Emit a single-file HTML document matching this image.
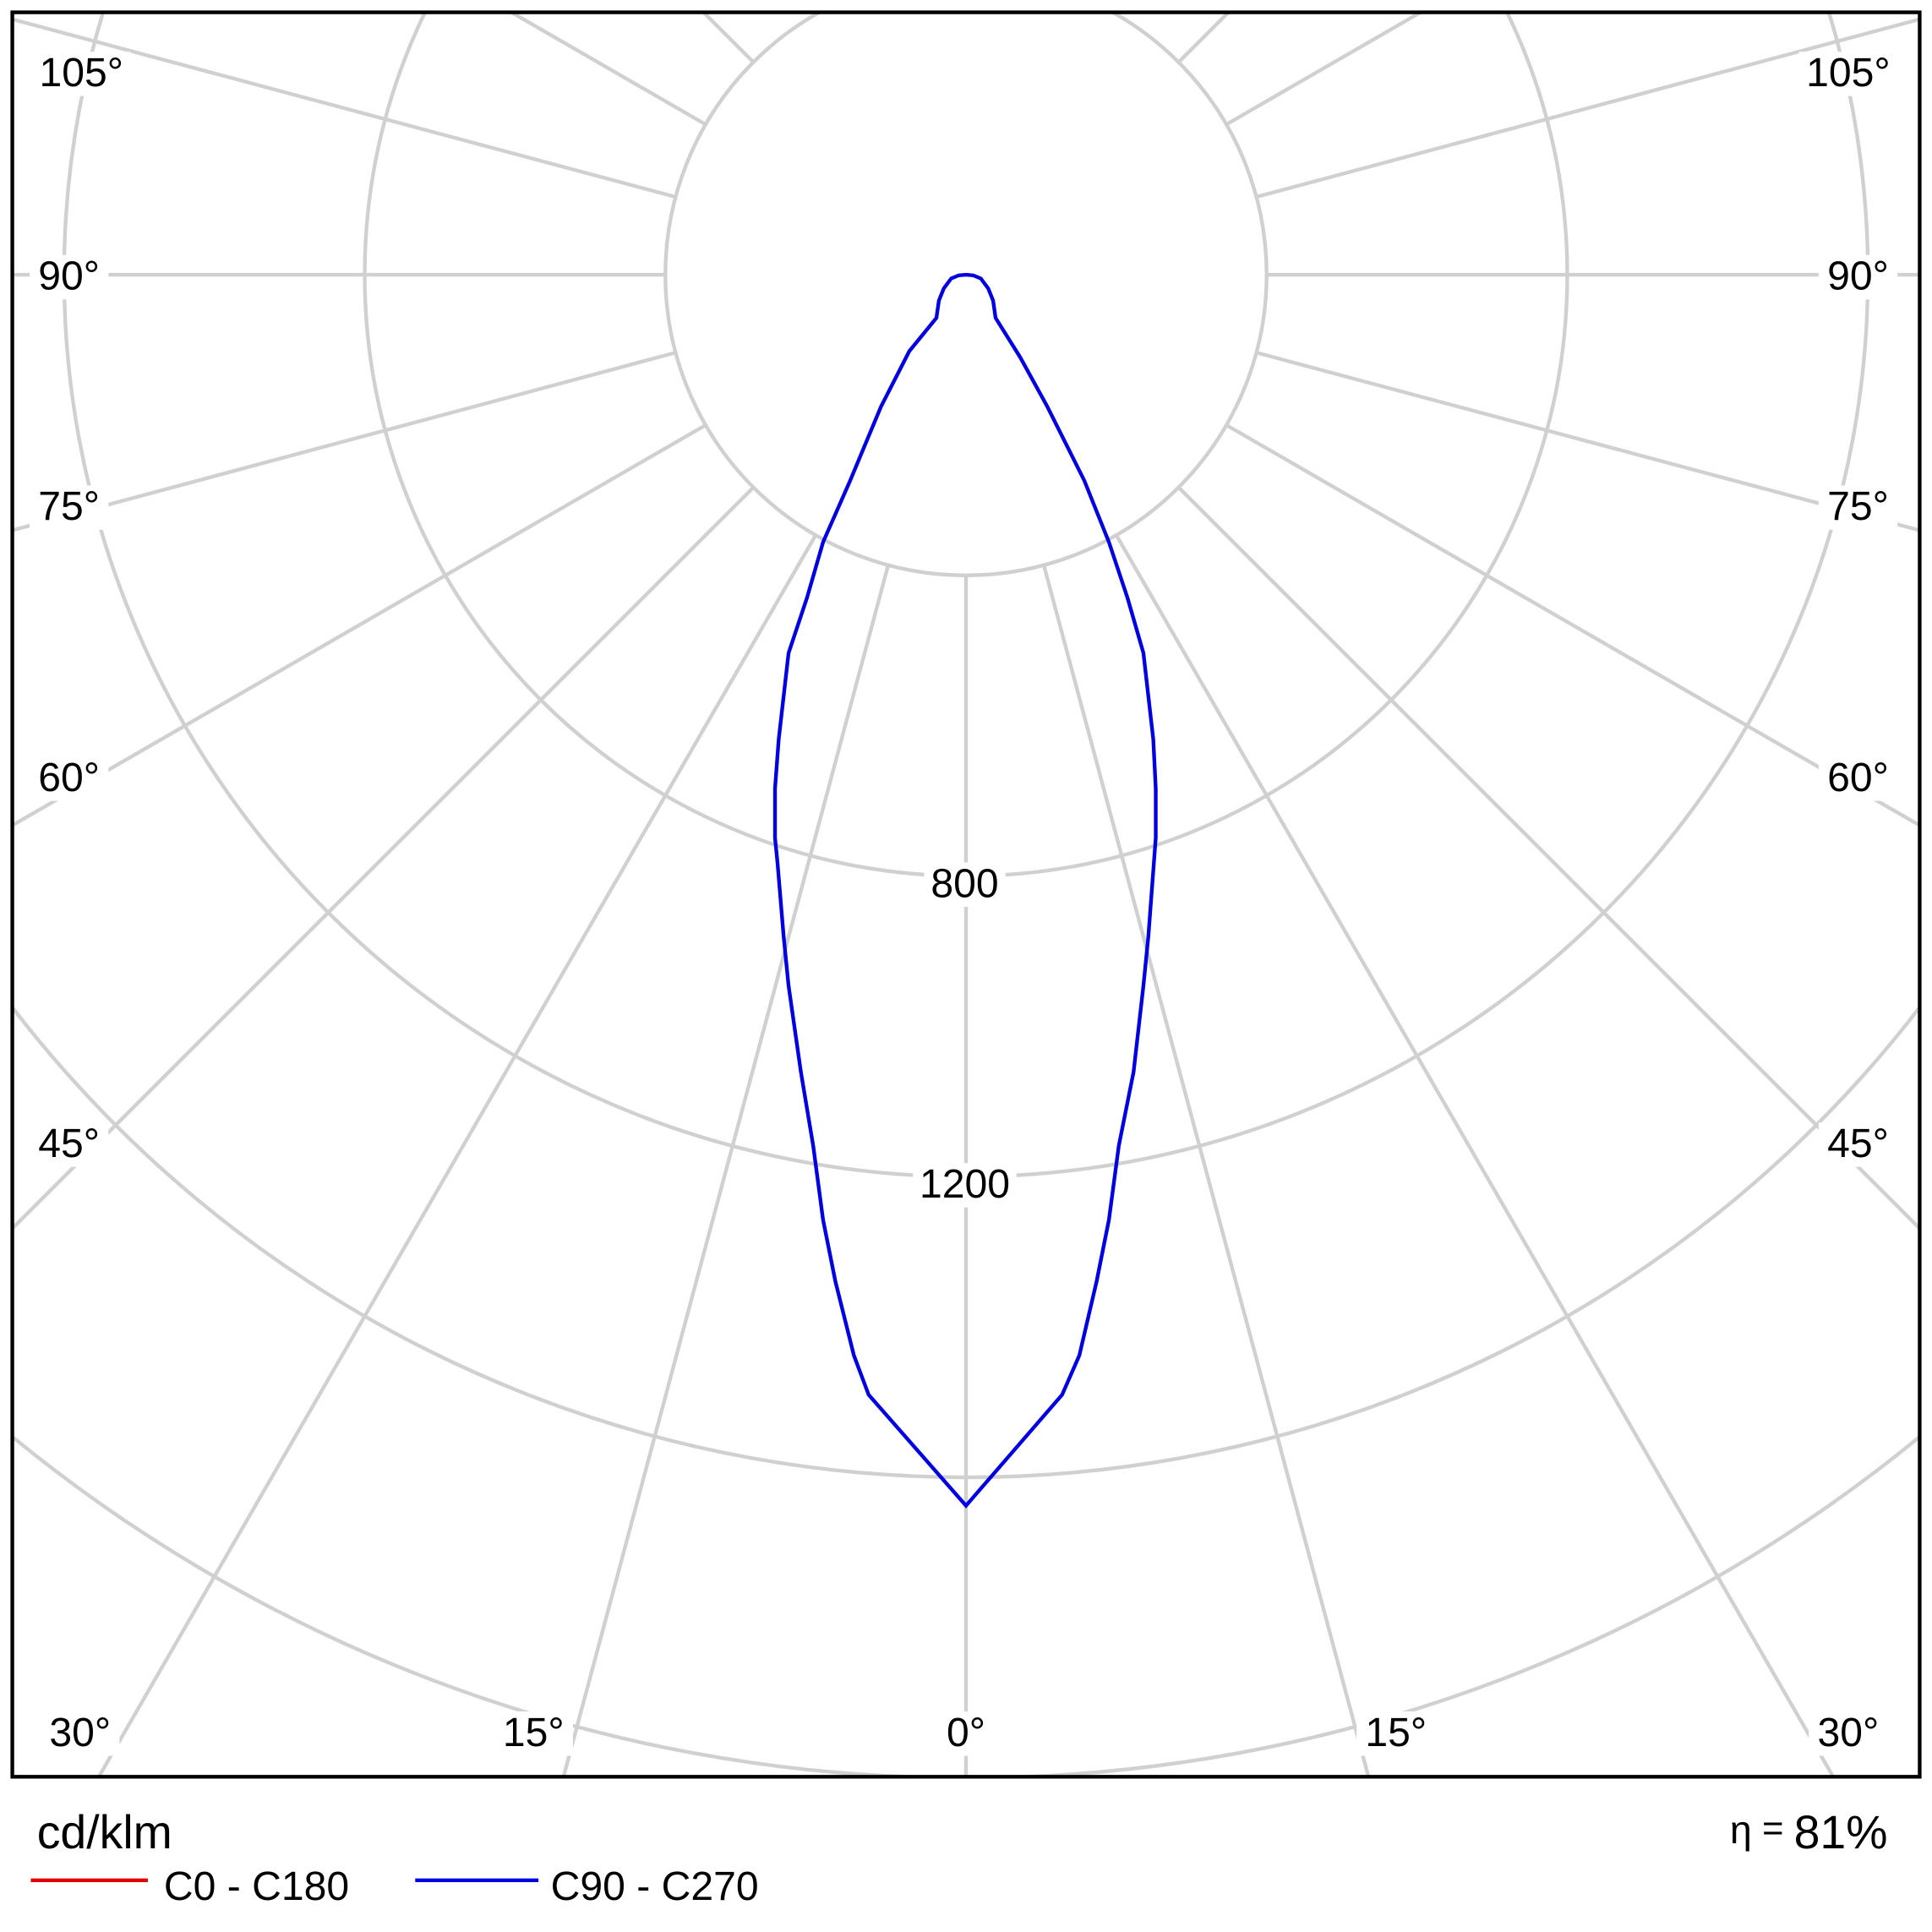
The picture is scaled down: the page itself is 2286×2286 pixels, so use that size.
<!DOCTYPE html>
<html><head><meta charset="utf-8"><style>
html,body{margin:0;padding:0;background:#fff;overflow:hidden;width:2286px;height:2286px}
svg{display:block}
text{font-family:"Liberation Sans","DejaVu Sans",sans-serif;fill:#000}
</style></head><body>
<svg id="s" width="2286" height="2286" viewBox="0 0 1568 1568" xmlns="http://www.w3.org/2000/svg">
<defs><clipPath id="c"><rect x="10" y="10" width="1548" height="1432"/></clipPath></defs>
<rect x="0" y="0" width="1568" height="1568" fill="#fff"/>
<g id="grid" clip-path="url(#c)" stroke="#d0d0d0" stroke-width="3" fill="none"></g>
<g id="labels" font-size="33" text-anchor="middle"></g>
<path clip-path="url(#c)" fill="none" stroke="#0000e0" stroke-width="3" d="M784,1222 L705,1132 L693,1100 L678,1040 L668,990 L660,930 L650,870 L640,800 L636,760 L631,700 L629,680 L629,640 L632,600 L640,530 L655,485 L668,440 L690,390 L715,330 L738,285 L760,258 L762,244 L766,234 L772,226 L778,223.5 L784,223 L790,223.5 L796,226 L802,234 L806,244 L808,258 L828,290 L850,330 L880,390 L900,440 L915,485 L928,530 L936,600 L938,640 L938,680 L932,760 L928,800 L920,870 L908,930 L900,990 L890,1040 L876,1100 L862,1132 Z"/>
<rect x="10" y="10" width="1548" height="1432" fill="none" stroke="#000" stroke-width="3"/>
<text x="30" y="1500" font-size="38">cd/klm</text>
<text x="1532" y="1500" font-size="38" text-anchor="end"><tspan font-size="32" dy="-4">η</tspan><tspan font-size="30" dy="-2"> = </tspan><tspan dy="6">81%</tspan></text>
<line x1="25" y1="1526" x2="120" y2="1526" stroke="#e00000" stroke-width="3"/>
<text x="133" y="1542" font-size="33">C0 - C180</text>
<line x1="337" y1="1526" x2="437" y2="1526" stroke="#0000e0" stroke-width="3"/>
<text x="447" y="1542" font-size="33">C90 - C270</text>
</svg>
<script>
var ns="http://www.w3.org/2000/svg",g=document.getElementById("grid"),L=document.getElementById("labels");
var cx=784,cy=223;
for(var r=244;r<=1464;r+=244){var c=document.createElementNS(ns,"circle");c.setAttribute("cx",cx);c.setAttribute("cy",cy);c.setAttribute("r",r);g.appendChild(c);}
for(var a=-180;a<=180;a+=15){var t=a*Math.PI/180,l=document.createElementNS(ns,"line");
l.setAttribute("x1",cx+244*Math.sin(t));l.setAttribute("y1",cy+244*Math.cos(t));
l.setAttribute("x2",cx+2400*Math.sin(t));l.setAttribute("y2",cy+2400*Math.cos(t));g.appendChild(l);}
function lab(x,y,s,w){var b=document.createElementNS(ns,"rect");b.setAttribute("x",x-w/2);b.setAttribute("y",y-28);b.setAttribute("width",w);b.setAttribute("height",36);b.setAttribute("fill","#fff");L.appendChild(b);
var e=document.createElementNS(ns,"text");e.setAttribute("x",x);e.setAttribute("y",y);e.textContent=s;L.appendChild(e);}
lab(66,70,"105°",80);lab(1500,70,"105°",80);
lab(56,235,"90°",64);lab(1508,235,"90°",64);
lab(56,422,"75°",64);lab(1508,422,"75°",64);
lab(56,642,"60°",64);lab(1508,642,"60°",64);
lab(56,939,"45°",64);lab(1508,939,"45°",64);
lab(65,1417,"30°",64);lab(433,1417,"15°",64);lab(784,1417,"0°",48);lab(1133,1417,"15°",64);lab(1500,1417,"30°",64);
lab(783,728,"800",66);lab(783,972,"1200",84);
</script>
</body></html>
